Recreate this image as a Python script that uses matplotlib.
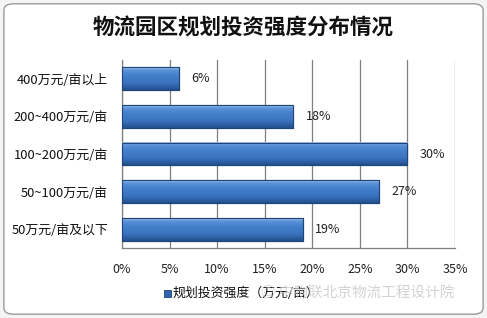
import numpy as np
import matplotlib.pyplot as plt
from matplotlib.patches import FancyBboxPatch, Rectangle
from matplotlib.colors import LinearSegmentedColormap

plt.rcParams['font.family'] = ['Noto Sans CJK SC', 'DejaVu Sans']

# data (top to bottom as shown)
categories = ['400万元/亩以上', '200~400万元/亩', '100~200万元/亩', '50~100万元/亩', '50万元/亩及以下']
values = [6, 18, 30, 27, 19]
xticks = [0, 5, 10, 15, 20, 25, 30, 35]

fig = plt.figure(figsize=(4.87, 3.18), dpi=100)
fig.patch.set_facecolor('#f4f4f4')

# chart area frame with rounded corners
frame = FancyBboxPatch((0.008, 0.012), 0.984, 0.976, boxstyle='round,pad=0,rounding_size=0.02',
                       transform=fig.transFigure, facecolor='white', edgecolor='#9a9a9a',
                       linewidth=1.0, zorder=-5)
fig.patches.append(frame)

ax = fig.add_axes([0.2505, 0.2201, 0.6838, 0.5912])
ax.set_facecolor('none')

y = np.arange(len(categories))
bar_h = 0.61

# gradient like the Excel 3D bars: light top edge, blue body, darker bottom
cmap = LinearSegmentedColormap.from_list(
    'bar', [(0, '#a4c4ea'), (0.12, '#5c93d8'), (0.35, '#4580cc'), (0.7, '#3a72c0'), (1, '#22508c')])
grad = np.linspace(0, 1, 64).reshape(-1, 1)

bars = ax.barh(y, values, height=bar_h, color='#3a72bf', edgecolor='#1d4577', linewidth=0.8, zorder=3)
for b in bars:
    x0, y0 = b.get_x(), b.get_y()
    w, h = b.get_width(), b.get_height()
    ax.imshow(grad, cmap=cmap, aspect='auto', extent=(x0, x0 + w, y0 + h, y0),
              origin='upper', zorder=3.5, interpolation='bicubic')
    ax.add_patch(Rectangle((x0, y0), w, h, fill=False, edgecolor='#1d4577', linewidth=0.8, zorder=4))

for yi, v in zip(y, values):
    ax.annotate(f'{v}%', (v, yi), xytext=(9, 0), textcoords='offset points',
                va='center', ha='left', fontsize=9, color='#222222')

ax.set_xlim(0, 35)
ax.set_ylim(len(categories) - 0.5, -0.5)
ax.set_xticks(xticks)
ax.set_xticklabels([f'{t}%' for t in xticks], fontsize=9, color='#222222')
ax.set_yticks(y)
ax.set_yticklabels(categories, fontsize=9.3, color='#111111')
ax.tick_params(axis='both', length=0, pad=11)
ax.tick_params(axis='y', pad=10)
ax.grid(axis='x', color='#7f7f7f', linewidth=0.9, zorder=1)
for s in ['top', 'right']:
    ax.spines[s].set_visible(False)
for s in ['left', 'bottom']:
    ax.spines[s].set_color('#7f7f7f')
    ax.spines[s].set_linewidth(0.9)

fig.text(0.5, 0.912, '物流园区规划投资强度分布情况', ha='center', va='center',
         fontsize=15.5, fontweight='bold', color='#111111')

# legend
fig.patches.append(Rectangle((0.337, 0.067), 0.014, 0.022, transform=fig.transFigure,
                             facecolor='#2f66ad', edgecolor='#1d4577', linewidth=0.6))
fig.text(0.354, 0.078, '规划投资强度（万元/亩）', ha='left', va='center', fontsize=9.3, color='#111111')

# watermark
fig.text(0.535, 0.078, '◎ 中物联北京物流工程设计院', ha='left', va='center', fontsize=10.5,
         color='#c8c8c8', alpha=0.8)

fig.savefig('out.png', dpi=100, facecolor=fig.get_facecolor())
